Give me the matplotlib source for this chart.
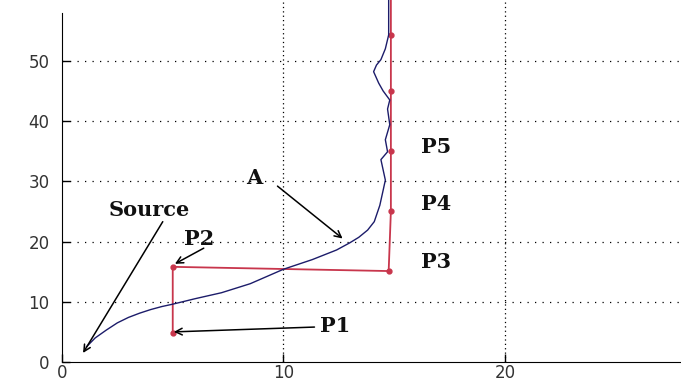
import matplotlib.pyplot as plt

# blue curve "A"
curve_x = [1.1, 1.5, 2.0, 2.5, 3.0, 3.5, 4.0, 4.5, 5.0, 6.0, 7.2, 8.5, 10.0, 11.3, 12.4, 13.0,
           13.4, 13.8, 14.1, 14.35, 14.5, 14.6, 14.4, 14.7, 14.6, 14.8, 14.7, 14.8, 14.5, 14.3,
           14.07, 14.2, 14.4, 14.6, 14.75, 14.75]
curve_y = [2.5, 4.0, 5.3, 6.5, 7.4, 8.1, 8.7, 9.2, 9.6, 10.5, 11.5, 13.0, 15.4, 17.0, 18.6, 19.8,
           20.7, 21.9, 23.3, 26.0, 28.5, 30.2, 33.6, 34.9, 36.9, 39.4, 42.0, 43.5, 45.0, 46.3,
           48.2, 49.3, 50.2, 52.0, 54.3, 60.5]

# red path P1 -> P2 -> P3 -> up
path_x = [5.0, 5.0, 14.75, 14.85, 14.85, 14.85, 14.85]
path_y = [4.8, 15.8, 15.1, 25.0, 35.0, 45.0, 54.3]
path_top = 60.5

# labels: text, text position, arrow tail, arrow tip (None = no arrow)
labels = [
    ("Source", (3.95, 25.2), (4.55, 23.3), (0.95, 1.5)),
    ("P2", (6.2, 20.4), (6.4, 18.9), (5.1, 16.3)),
    ("A", (8.67, 30.6), (9.73, 29.2), (12.67, 20.5)),
    ("P1", (12.35, 6.0), (11.4, 5.8), (5.05, 5.0)),
    ("P3", (16.9, 16.6), None, None),
    ("P4", (16.9, 26.2), None, None),
    ("P5", (16.9, 35.7), None, None),
]

fig = plt.figure(figsize=(6.81, 3.83), dpi=100)
ax = fig.add_axes([62 / 681, 21 / 383, 1 - 62 / 681, 362 / 383])
ax.set_xlim(0, 27.95)
ax.set_ylim(0, 60.1)

ax.spines['top'].set_visible(False)
ax.spines['right'].set_visible(False)
ax.spines['left'].set_bounds(0, 58)

ax.set_xticks([0, 10, 20])
ax.set_yticks([0, 10, 20, 30, 40, 50])
ax.tick_params(axis='both', direction='in', length=6, width=1, labelsize=12, labelcolor='#333333')
ax.tick_params(axis='y', pad=9)
ax.tick_params(axis='x', pad=1.5)

for v in [10, 20, 30, 40, 50]:
    ax.axhline(v, color='black', lw=0.9, dashes=(1, 5), zorder=0)
for v in [10, 20]:
    ax.axvline(v, color='black', lw=0.9, dashes=(1, 2.5), zorder=0)

ax.plot(curve_x, curve_y, color='#1c1c6a', lw=1.0, zorder=3, clip_on=False)
ax.plot(path_x + [path_x[-1]], path_y + [path_top], color='#c8364c', lw=1.3, zorder=2,
        clip_on=False)
ax.plot(path_x, path_y, 'o', color='#c8364c', ms=3.5, zorder=2)

for text, pos, tail, tip in labels:
    ax.text(pos[0], pos[1], text, family='DejaVu Serif', weight='bold', fontsize=15,
            ha='center', va='center', color='#111111', zorder=5)
    if tip is not None:
        ax.annotate('', xy=tip, xytext=tail,
                    arrowprops=dict(arrowstyle='->', color='black', lw=1.1,
                                    shrinkA=0, shrinkB=0, mutation_scale=12),
                    zorder=4)

plt.savefig('out.png', dpi=100)
